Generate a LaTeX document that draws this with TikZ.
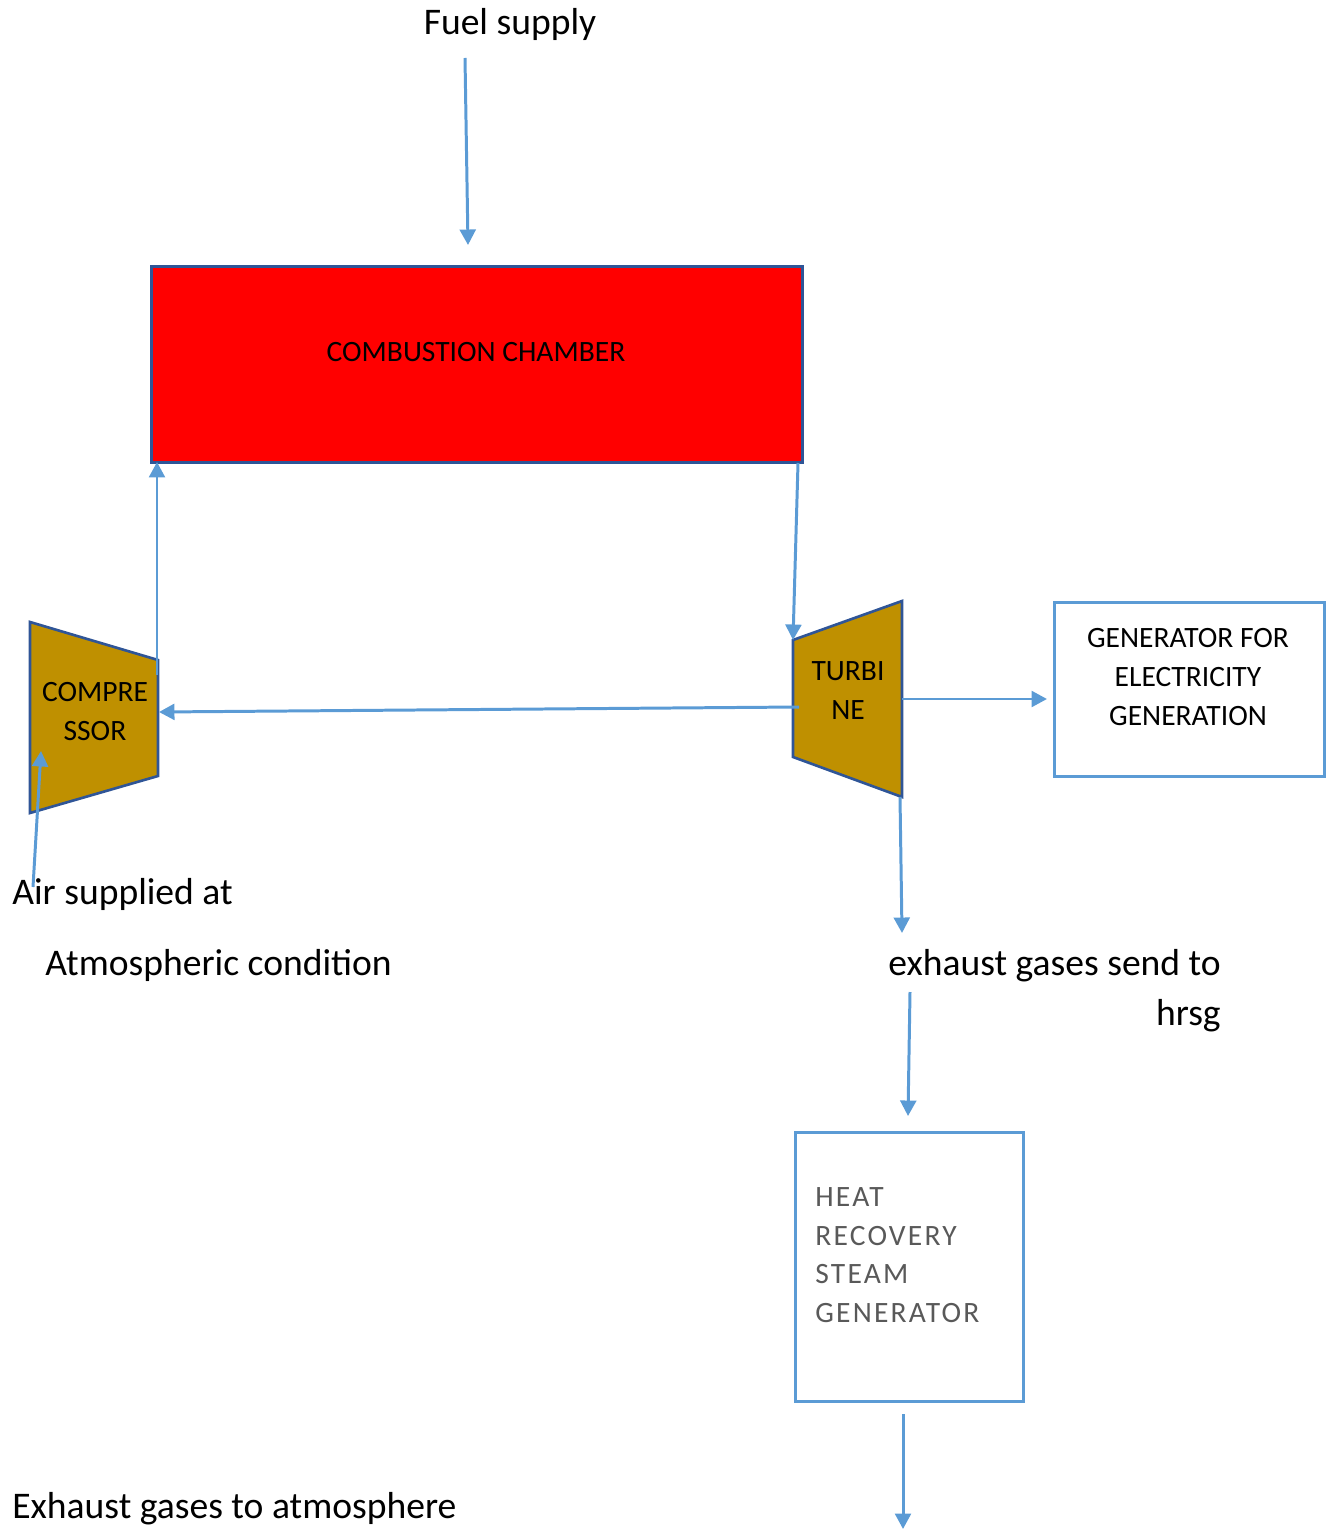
\documentclass[tikz,border=0pt]{standalone}
\usepackage{fontspec}
\setmainfont{Carlito}
\newfontfamily\spacedfont[LetterSpace=7.5]{Carlito}
\usetikzlibrary{arrows.meta}
\definecolor{arrowblue}{HTML}{5B9BD5}
\definecolor{darkedge}{HTML}{2F5597}
\definecolor{gold}{HTML}{BF9000}
\definecolor{hrsggray}{HTML}{595959}
\tikzset{
  flow/.style={draw=arrowblue, line width=1.7pt, -{Triangle[length=8.8pt,width=9pt]}},
  machine/.style={draw=darkedge, line width=1.5pt, fill=gold, line join=miter},
  biglabel/.style={font=\fontsize{21.4}{26}\selectfont, inner sep=0pt},
  boxlabel/.style={font=\fontsize{16.8}{22.1}\selectfont, inner sep=0pt, align=center},
  outbox/.style={draw=arrowblue, line width=1.5pt, fill=white}
}
\begin{document}
\begin{tikzpicture}[x=0.02cm, y=-0.02cm]
\useasboundingbox (0,0) rectangle (1328,1530);

% combustion chamber
\node[draw=darkedge, line width=1.5pt, fill=red, minimum width=651*0.02cm, minimum height=196*0.02cm, inner sep=0pt, anchor=north west] (cc) at (150,265) {};
\node[boxlabel] (cctext) at (476,352) {COMBUSTION CHAMBER};

% compressor
\coordinate (c1) at (30,622);
\coordinate (c2) at (158,660);
\coordinate (c3) at (158,776);
\coordinate (c4) at (30,813);
\draw[machine] (c1) -- (c2) -- (c3) -- (c4) -- cycle;
\node[boxlabel] (comptext) at (95,711.5) {COMPRE\\SSOR};

% turbine
\coordinate (t1) at (793,640);
\coordinate (t2) at (902,601);
\coordinate (t3) at (902,797);
\coordinate (t4) at (793,757);
\draw[machine] (t1) -- (t2) -- (t3) -- (t4) -- cycle;
\node[boxlabel] (turbtext) at (848,690.5) {TURBI\\NE};

% generator
\node[outbox, minimum width=270*0.02cm, minimum height=174*0.02cm, inner sep=0pt, anchor=north west] (gen) at (1053,601) {};
\node[boxlabel] (gentext) at (1188,677) {GENERATOR FOR\\ELECTRICITY\\GENERATION};

% HRSG
\node[outbox, minimum width=228*0.02cm, minimum height=269*0.02cm, inner sep=0pt, anchor=north west] (hrsg) at (794,1131) {};
\node[font=\spacedfont\fontsize{16.8}{22}\selectfont, text=hrsggray, inner sep=0pt, align=left, anchor=west] (hrsgtext) at (815,1255) {HEAT\\RECOVERY\\STEAM\\GENERATOR};

% free labels
\node[biglabel, anchor=base] (fuel) at (510,35) {Fuel supply};
\node[biglabel, anchor=base west] (air1) at (12,904) {Air supplied at};
\node[biglabel, anchor=base west] (air2) at (45,975) {Atmospheric condition};
\node[biglabel, anchor=base west] (exh1) at (888,975) {exhaust gases send to};
\node[biglabel, anchor=base east] (exh2) at (1221,1025) {hrsg};
\node[biglabel, anchor=base west] (exh3) at (12,1518) {Exhaust gases to atmosphere};

% connector endpoints
\coordinate (fuelS) at (465,58);
\coordinate (fuelE) at (468,245);
\coordinate (compUpS) at (157,675);
\coordinate (compUpE) at (157,462);
\coordinate (ccOutS) at (798,463);
\coordinate (turbFromS) at (799,707);
\coordinate (compIn) at (159,712);
\coordinate (turbOutR) at (902,699);
\coordinate (genIn) at (1047,699);
\coordinate (turbDownS) at (900,797);
\coordinate (turbDownE) at (902,933);
\coordinate (exhDownS) at (910,992);
\coordinate (exhDownE) at (908,1116);
\coordinate (hrsgOutS) at (903,1414);
\coordinate (hrsgOutE) at (903,1529);
\coordinate (airS) at (33,887);
\coordinate (airE) at (41,751);

% connectors
\draw[flow] (fuelS) -- (fuelE);
\draw[flow] (compUpS) -- (compUpE);
\draw[flow] (ccOutS) -- (t1);
\draw[flow] (turbFromS) -- (compIn);
\draw[flow] (turbOutR) -- (genIn);
\draw[flow] (turbDownS) -- (turbDownE);
\draw[flow] (exhDownS) -- (exhDownE);
\draw[flow] (hrsgOutS) -- (hrsgOutE);
\draw[flow] (airS) -- (airE);
\end{tikzpicture}
\end{document}
